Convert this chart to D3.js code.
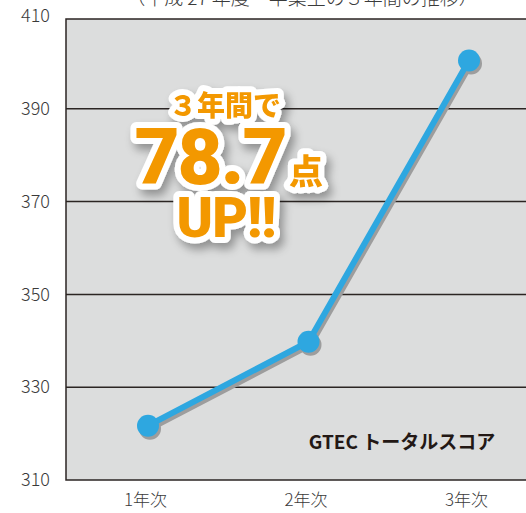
<!DOCTYPE html>
<html>
<head>
<meta charset="utf-8" />
<title>GTEC</title>
<script src="https://d3js.org/d3.v7.min.js"></script>
<style>
  body { margin: 0; padding: 0; background: #fff; overflow: hidden; }
  .tick text { font-family: "Noto Sans CJK JP", sans-serif; font-weight: 300; fill: #3a3a3a; }
</style>
</head>
<body>
<script>
// data
var categories = ["1年次", "2年次", "3年次"];
var scores = [321.7, 339.8, 400.4];
var yTicks = [310, 330, 350, 370, 390, 410];
var titleText = "（平成 27 年度　卒業生の３年間の推移）";
var seriesName = "GTEC トータルスコア";

var W = 526, H = 513;
var plotLeft = 66, plotTop = 16, plotBottom = 480;

var svg = d3.select("body").append("svg")
  .attr("width", W)
  .attr("height", H);

var defs = svg.append("defs");
var f = defs.append("filter").attr("id", "soft").attr("x", "-20%").attr("y", "-20%").attr("width", "150%").attr("height", "150%");
f.append("feGaussianBlur").attr("in", "SourceAlpha").attr("stdDeviation", 5).attr("result", "b");
f.append("feOffset").attr("in", "b").attr("dx", 4).attr("dy", 6).attr("result", "o");
f.append("feComponentTransfer").attr("in", "o").attr("result", "s")
  .append("feFuncA").attr("type", "linear").attr("slope", 0.35);
var m = f.append("feMerge");
m.append("feMergeNode").attr("in", "s");
m.append("feMergeNode").attr("in", "SourceGraphic");

var y = d3.scaleLinear().domain([310, 410]).range([plotBottom, plotTop]);
var x = d3.scalePoint().domain(categories).range([148, 469]);

// plot background
svg.append("rect")
  .attr("x", plotLeft)
  .attr("y", y(410) + 3)
  .attr("width", W - plotLeft + 10)
  .attr("height", plotBottom - y(410) - 3)
  .attr("fill", "#dcdddd")
  .attr("stroke", "#2b2523")
  .attr("stroke-width", 1.5);

// title, mostly cut off at top
svg.append("text")
  .attr("x", 302)
  .attr("y", 5)
  .attr("text-anchor", "middle")
  .attr("font-family", "Noto Sans CJK JP, sans-serif")
  .attr("font-weight", 300)
  .attr("font-size", 19)
  .attr("fill", "#3a3a3a")
  .text(titleText);

// grid
svg.append("g").selectAll("line")
  .data(yTicks.filter(function(d) { return d > 310 && d < 410; }))
  .enter().append("line")
  .attr("x1", plotLeft).attr("x2", W)
  .attr("y1", function(d) { return y(d); })
  .attr("y2", function(d) { return y(d); })
  .attr("stroke", "#2b2523")
  .attr("stroke-width", 1.5);

// y axis labels
var ya = svg.append("g")
  .attr("transform", "translate(" + (plotLeft - 16) + ",0)")
  .call(d3.axisLeft(y).tickValues(yTicks).tickSize(0).tickPadding(0));
ya.select(".domain").remove();
ya.selectAll("text").attr("font-size", 18);

// x axis labels
var xa = svg.append("g")
  .attr("transform", "translate(-3," + (plotBottom + 14) + ")")
  .call(d3.axisBottom(x).tickSize(0).tickPadding(0));
xa.select(".domain").remove();
xa.selectAll("text").attr("font-size", 17);

// series line with shadow
var pts = categories.map(function(c, i) { return [x(c), y(scores[i])]; });
var line = d3.line();

svg.append("path")
  .attr("d", line(pts))
  .attr("transform", "translate(2,3)")
  .attr("fill", "none")
  .attr("stroke", "#9d9d9d")
  .attr("stroke-width", 6);
svg.selectAll(".dotShadow").data(pts).enter().append("circle")
  .attr("class", "dotShadow")
  .attr("cx", function(d) { return d[0] + 2; })
  .attr("cy", function(d) { return d[1] + 3; })
  .attr("r", 11)
  .attr("fill", "#9d9d9d");

svg.append("path")
  .attr("d", line(pts))
  .attr("fill", "none")
  .attr("stroke", "#2ea7e0")
  .attr("stroke-width", 6);
svg.selectAll(".dot").data(pts).enter().append("circle")
  .attr("class", "dot")
  .attr("cx", function(d) { return d[0]; })
  .attr("cy", function(d) { return d[1]; })
  .attr("r", 11)
  .attr("fill", "#2ea7e0");

// series name
svg.append("text")
  .attr("x", 402)
  .attr("y", 449)
  .attr("text-anchor", "middle")
  .attr("font-family", "Noto Sans CJK JP, sans-serif")
  .attr("font-weight", 700)
  .attr("font-size", 19)
  .attr("fill", "#231815")
  .text(seriesName);

// callout
var gain = (scores[2] - scores[0]).toFixed(1);
var call = svg.append("g").attr("filter", "url(#soft)");

function outlined(g, tx, ty, size, str, fam, spacing) {
  var t = g.append("text")
    .attr("x", tx).attr("y", ty)
    .attr("text-anchor", "middle")
    .attr("font-family", fam)
    .attr("font-weight", 900)
    .attr("font-size", size)
    .attr("letter-spacing", spacing || 0)
    .attr("stroke", "#fff")
    .attr("stroke-width", 12)
    .attr("stroke-linejoin", "round")
    .attr("paint-order", "stroke")
    .attr("fill", "#f39800")
    .text(str);
  return t;
}

outlined(call, 225, 116, 28, "３年間で", "Noto Sans CJK JP, sans-serif");
outlined(call, 210, 184, 78, gain, "Roboto, sans-serif", -2);
outlined(call, 306, 184, 34, "点", "Noto Sans CJK JP, sans-serif");
outlined(call, 226, 237, 55, "UP!!", "Roboto, sans-serif", -1);
</script>
</body>
</html>
